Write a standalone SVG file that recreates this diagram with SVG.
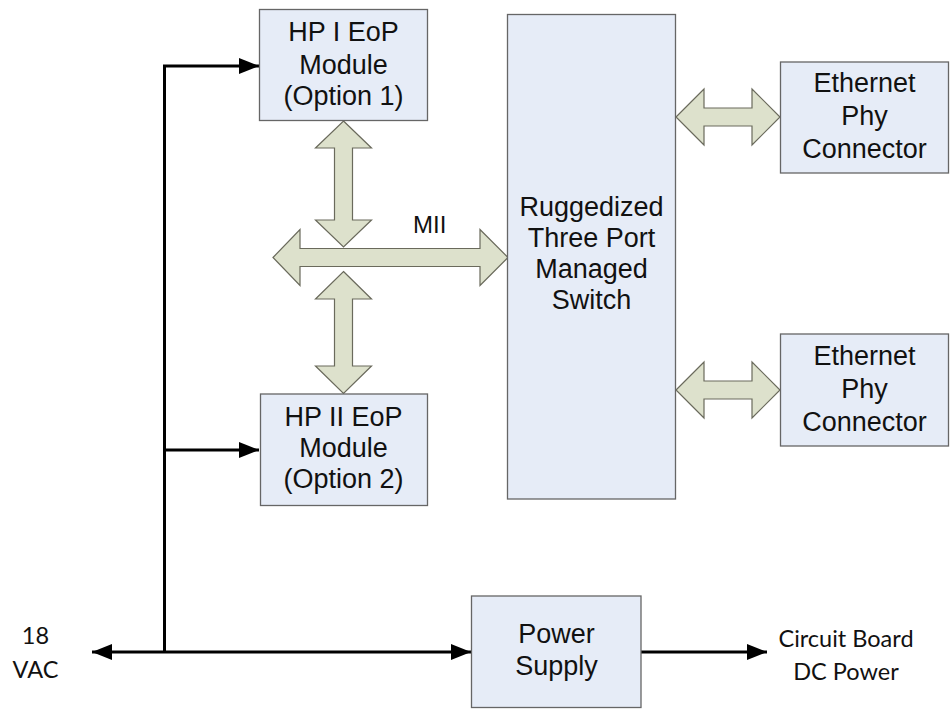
<svg xmlns="http://www.w3.org/2000/svg" width="951" height="713" viewBox="0 0 951 713">
  <defs>
    <style>
      .box { fill: #E6ECF7; stroke: #666666; stroke-width: 1.3; }
      .lbl { font-family: "Liberation Sans", Arial, sans-serif; font-size: 27px; fill: #111111; text-anchor: middle; }
      .side { font-family: Lato, "Open Sans", sans-serif; font-size: 23.5px; fill: #111111; text-anchor: middle; }
      .bus { fill: #DDE1CC; stroke: #6A6A5C; stroke-width: 1.2; stroke-linejoin: miter; }
      .wire { fill: none; stroke: #000000; stroke-width: 3; }
    </style>
    <marker id="head" viewBox="0 0 20 16" refX="20" refY="8" markerWidth="20" markerHeight="16" markerUnits="userSpaceOnUse" orient="auto-start-reverse">
      <path d="M0,0 L20,8 L0,16 Z" fill="#000000"/>
    </marker>
  </defs>

  <rect width="951" height="713" fill="#FFFFFF"/>

  <!-- power wiring and data buses -->
  <g id="connectors">
    <!-- 18 VAC feed, trunk and branches -->
    <line class="wire" x1="92" y1="652" x2="471" y2="652" marker-start="url(#head)" marker-end="url(#head)"/>
    <polyline class="wire" points="164.5,652 164.5,66 259,66" marker-end="url(#head)"/>
    <line class="wire" x1="164.5" y1="450" x2="259" y2="450" marker-end="url(#head)"/>
    <!-- DC output -->
    <line class="wire" x1="641" y1="652" x2="767" y2="652" marker-end="url(#head)"/>

    <!-- HP I module to MII bus -->
    <path class="bus" d="M343.5,121 L371.5,148 L352.5,148 L352.5,220 L371.5,220 L343.5,247 L315.5,220 L334.5,220 L334.5,148 L315.5,148 Z"/>
    <!-- MII bus to switch -->
    <path class="bus" d="M273,257.5 L300,229.5 L300,248.5 L480,248.5 L480,229.5 L508,257.5 L480,285.5 L480,266.5 L300,266.5 L300,285.5 Z"/>
    <!-- MII bus to HP II module -->
    <path class="bus" d="M343.5,271.5 L371.5,299 L352.5,299 L352.5,366 L371.5,366 L343.5,393.5 L315.5,366 L334.5,366 L334.5,299 L315.5,299 Z"/>
    <!-- switch to Ethernet Phy connectors -->
    <path class="bus" d="M676,117 L704,89 L704,108 L752,108 L752,89 L780,117 L752,145 L752,126 L704,126 L704,145 Z"/>
    <path class="bus" d="M676,390 L704,362 L704,381 L752,381 L752,362 L780,390 L752,418 L752,399 L704,399 L704,418 Z"/>
  </g>

  <text class="lbl" x="413" y="233" style="text-anchor:start; font-size:24px">MII</text>

  <g id="hp1">
    <rect class="box" x="259.5" y="9.5" width="168" height="111"/>
    <text class="lbl" x="343.5" y="41">HP I EoP</text>
    <text class="lbl" x="343.5" y="74">Module</text>
    <text class="lbl" x="343.5" y="105">(Option 1)</text>
  </g>

  <g id="hp2">
    <rect class="box" x="260.5" y="394" width="167" height="111.5"/>
    <text class="lbl" x="343.5" y="426">HP II EoP</text>
    <text class="lbl" x="343.5" y="457">Module</text>
    <text class="lbl" x="343.5" y="488">(Option 2)</text>
  </g>

  <g id="switch">
    <rect class="box" x="507.5" y="14.5" width="168" height="484.5"/>
    <text class="lbl" x="591.5" y="216">Ruggedized</text>
    <text class="lbl" x="591.5" y="247">Three Port</text>
    <text class="lbl" x="591.5" y="278">Managed</text>
    <text class="lbl" x="591.5" y="309">Switch</text>
  </g>

  <g id="phy1">
    <rect class="box" x="780.5" y="62" width="168" height="111"/>
    <text class="lbl" x="864.5" y="92">Ethernet</text>
    <text class="lbl" x="864.5" y="125">Phy</text>
    <text class="lbl" x="864.5" y="158">Connector</text>
  </g>

  <g id="phy2">
    <rect class="box" x="780.5" y="334" width="168" height="112"/>
    <text class="lbl" x="864.5" y="365">Ethernet</text>
    <text class="lbl" x="864.5" y="398">Phy</text>
    <text class="lbl" x="864.5" y="431">Connector</text>
  </g>

  <g id="power-supply">
    <rect class="box" x="471.5" y="596" width="169.5" height="111.5"/>
    <text class="lbl" x="556.5" y="643">Power</text>
    <text class="lbl" x="556.5" y="675">Supply</text>
  </g>

  <g id="vac-in">
    <text class="side" x="35.5" y="644">18</text>
    <text class="side" x="35.5" y="678">VAC</text>
  </g>

  <g id="dc-out">
    <text class="side" x="846" y="647">Circuit Board</text>
    <text class="side" x="846" y="680">DC Power</text>
  </g>
</svg>
